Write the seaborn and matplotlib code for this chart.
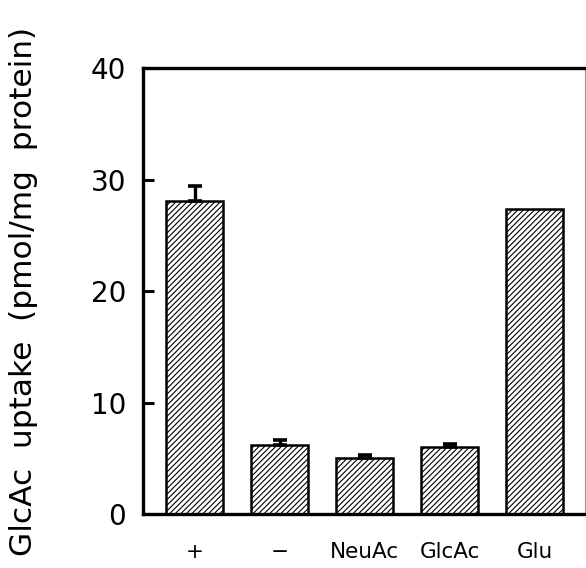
import matplotlib
matplotlib.use("Agg")
import matplotlib.pyplot as plt
import seaborn as sns
import pandas as pd

# Values
conditions = ["+", "\u2212", "NeuAc", "GlcAc", "Glu"]
uptake = [28.1, 6.2, 5.0, 6.0, 27.4]
uptake_err = [1.3, 0.45, 0.3, 0.3, 0.0]

df = pd.DataFrame({"condition": conditions, "uptake": uptake})

sns.set_style("ticks")
plt.rcParams["font.family"] = ["DejaVu Sans"]
plt.rcParams["hatch.linewidth"] = 0.8
for key in ["text.color", "axes.labelcolor", "xtick.color", "ytick.color", "axes.edgecolor"]:
    plt.rcParams[key] = "black"

fig = plt.figure(figsize=(5.86, 5.68), dpi=100)
ax = fig.add_axes([0.244, 0.095, 0.754, 0.785])

sns.barplot(data=df, x="condition", y="uptake", color="white",
            edgecolor="black", linewidth=1.8, width=0.67, errorbar=None, ax=ax)
for bar in ax.patches:
    bar.set_hatch("//////")

# upper-only error bars, skipping bars without one
idx = [i for i, e in enumerate(uptake_err) if e > 0]
ax.errorbar(idx, [uptake[i] for i in idx],
            yerr=[[0] * len(idx), [uptake_err[i] for i in idx]], fmt="none",
            ecolor="black", elinewidth=2.4, capsize=5, capthick=2.6)

ax.set_ylim(0, 40)
ax.set_xlim(-0.61, 4.59)
ax.set_yticks([0, 10, 20, 30, 40])
ax.tick_params(axis="y", direction="in", length=8, width=2.2, labelsize=20, pad=12)
ax.tick_params(axis="x", length=0, labelsize=15.5, pad=20)

ax.set_xlabel("")
ax.set_ylabel("GlcAc  uptake  (pmol/mg  protein)", fontsize=22.5)
ax.yaxis.set_label_coords(-0.238, 0.5)

for side in ["left", "bottom", "top"]:
    ax.spines[side].set_linewidth(2.4)
ax.spines["right"].set_linewidth(0.8)
ax.spines["right"].set_color("#999999")

fig.savefig("out.png", dpi=100)
